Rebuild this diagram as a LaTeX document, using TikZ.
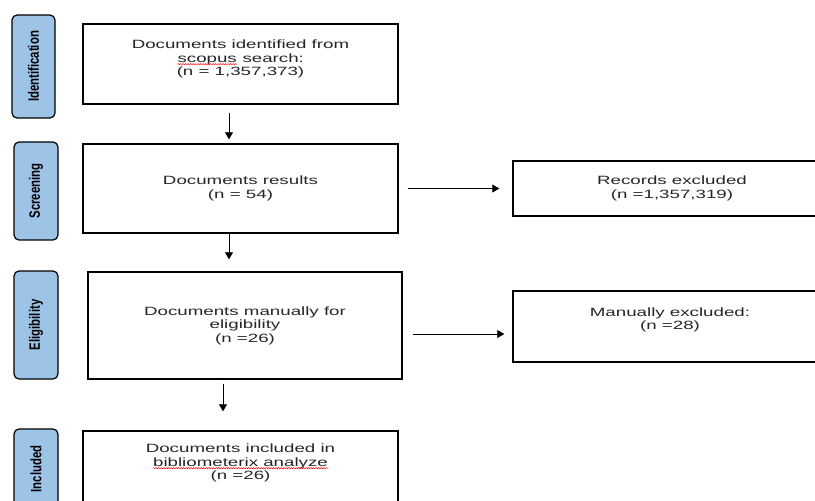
\documentclass[tikz,border=0pt]{standalone}
\usepackage{fontspec}
\setmainfont[FakeStretch=1.56]{Liberation Sans}
\newfontfamily\sidefont[FakeStretch=0.76]{Liberation Sans}
\usepackage{xcolor}
\usetikzlibrary{arrows.meta}
\usetikzlibrary{positioning}
\usetikzlibrary{decorations.pathmorphing}
\definecolor{sideblue}{HTML}{9DC3E6}
% red spelling squiggle under a word
\newcommand\redwave[1]{\tikz[baseline=(w.base)]{\node[draw=none, inner sep=0pt, minimum width=0pt, minimum height=0pt] (w) {#1};
	\draw[red, line width=0.5pt, decorate, decoration={snake, amplitude=0.6pt, segment length=2.5pt}] ([yshift=-1.8pt]w.base west) -- ([yshift=-1.8pt]w.base east);}}

\begin{document}
\begin{tikzpicture}[x=1pt,y=1pt,>={Triangle[length=7pt,width=8pt]}]
	\tikzstyle{stage}=[draw, line width=1.2pt, rounded corners=5pt, fill=sideblue, rotate=90, inner sep=0pt, font=\sidefont\fontsize{15}{18}\selectfont\bfseries]
	\tikzstyle{box}=[draw, line width=1.4pt, minimum width=315pt, align=center, text=black!85, font=\fontsize{12}{13.5}\selectfont]
	\tikzstyle{arr}=[->, line width=0.8pt]

	\useasboundingbox (0,0) rectangle (815,-501);

	% stages on the left
	\node[stage, minimum width=103pt, minimum height=43pt] (idf) at (33.5,-66.5) {Identification};
	\node[stage, minimum width=98pt, minimum height=44pt] (scr) at (36,-191) {Screening};
	\node[stage, minimum width=108pt, minimum height=44pt] (elg) at (36,-325) {Eligibility};
	\node[stage, minimum width=80pt, minimum height=44pt] (inc) at (36,-469) {Included};

	% main column
	\node[box, minimum height=80pt] (found) at (240.5,-64) {Documents identified from\\ \redwave{scopus} search:\\ (n = 1,357,373)\\[-1.5pt]};
	\node[box, minimum height=89pt] (results) [below of=found, node distance=124.5pt] {Documents results\\ (n = 54)};
	\node[box, minimum width=314pt, minimum height=107pt] (manual) at (245,-325.5) {Documents manually for\\ eligibility\\ (n =26)};
	\node[box, minimum height=74pt] (incl) at (240.5,-468) {Documents included in\\ \redwave{bibliometerix analyze}\\ (n =26)\\[-1.5pt]};

	% excluded
	\node[box, minimum width=318pt, minimum height=55pt] (recex) [right of=results, node distance=431.5pt] {Records excluded\\ (n =1,357,319)};
	\node[box, minimum width=314pt, minimum height=71pt] (manex) at (670,-326.5) {Manually excluded:\\ (n =28)\\[2.5pt]};

	\draw[arr, shorten <=8pt, shorten >=4pt] ([xshift=-11.5pt]found.south) -- ([xshift=-11.5pt]results.north);
	\draw[arr, shorten >=12pt] ([xshift=-11.5pt]results.south) -- ([xshift=-11.5pt]results.south |- manual.north);
	\draw[arr, shorten <=4pt, shorten >=19pt] ([xshift=-22pt]manual.south) -- ([xshift=-22pt]manual.south |- incl.north);
	\draw[arr, shorten <=9pt, shorten >=13pt] (results.east) -- (recex.west);
	\draw[arr, shorten <=10pt, shorten >=8pt] ([yshift=-8.5pt]manual.east) -- ([yshift=-8.5pt]manual.east -| manex.west);
\end{tikzpicture}
\end{document}
